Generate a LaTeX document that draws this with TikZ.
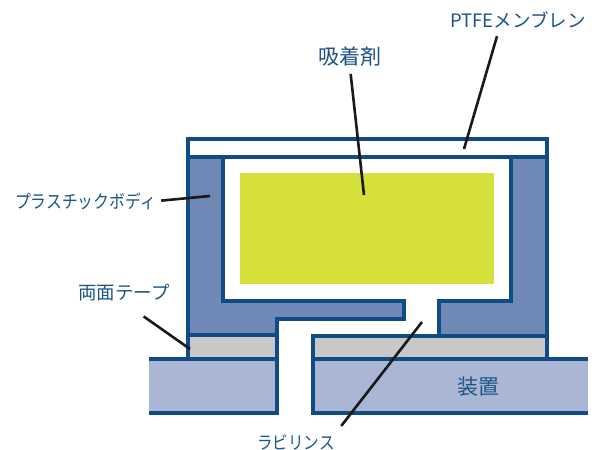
\documentclass[tikz,border=0pt]{standalone}
\usepackage{fontspec}
\setmainfont{Noto Sans CJK JP}
\newfontfamily\narrowfont[FakeStretch=0.86]{Noto Sans CJK JP}
\usepackage{xcolor}
\definecolor{edgeblue}{HTML}{0F4C86}
\definecolor{bodyblue}{HTML}{6F88B5}
\definecolor{baseblue}{HTML}{A9B7D4}
\definecolor{tapegrey}{HTML}{C8C8C8}
\definecolor{sorbent}{HTML}{D5E03A}
\definecolor{textblue}{HTML}{1F5488}
\tikzset{
	partline/.style={draw=edgeblue, line width=3.1pt, line join=miter},
	biglabel/.style={text=textblue, inner sep=1pt, font=\fontsize{21}{21}\selectfont},
	midlabel/.style={text=textblue, inner sep=1pt, font=\fontsize{18.5}{18.5}\selectfont},
	kanalabel/.style={text=textblue, inner sep=1pt, font=\narrowfont\fontsize{18}{18}\selectfont},
	leader/.style={draw=black!90, line width=2.6pt}
}

\begin{document}
\begin{tikzpicture}[x=1pt, y=-1pt]
		\useasboundingbox (0,0) rectangle (598,450);
		% device base
		\fill[baseblue] (149,359) rectangle (277,413);
		\fill[baseblue] (313,359) rectangle (588,413);
		\draw[partline] (149,359) -- (277,359) -- (277,413) -- (149,413);
		\draw[partline] (588,359) -- (313,359) -- (313,413) -- (588,413);
		% tape
		\filldraw[partline, fill=tapegrey] (188,335) rectangle (277,359);
		\filldraw[partline, fill=tapegrey] (313,336) rectangle (547,359);
		% body
		\filldraw[partline, fill=bodyblue] (188,157) -- (188,335) -- (277,335) -- (277,319) -- (404,319) -- (404,301) -- (223,301) -- (223,157) -- cycle;
		\filldraw[partline, fill=bodyblue] (511,157) -- (547,157) -- (547,336) -- (439,336) -- (439,301) -- (511,301) -- cycle;
		% membrane
		\draw[partline] (188,139) rectangle (547,157);
		% sorbent
		\fill[sorbent] (240,173) rectangle (494,284);
		% labels
		\node[midlabel] (labelptfe) at (518,20) {PTFEメンブレン};
		\node[biglabel] (labelsorbent) at (350,57) {吸着剤};
		\node[kanalabel, font=\narrowfont\fontsize{18.4}{18.4}\selectfont] (labelbody) at (85.5,201) {プラスチックボディ};
		\node[midlabel] (labeltape) at (124,293) {両面テープ};
		\node[biglabel] (labeldevice) at (478,387) {装置};
		\node[kanalabel] (labellabyrinth) at (296,442) {ラビリンス};
		\coordinate (tipptfe) at (464,149);
		\coordinate (tipsorbent) at (364,195);
		\coordinate (tipbody) at (210,196);
		\coordinate (tiptape) at (190,349);
		\coordinate (tiplabyrinth) at (422,322);
		\draw[leader, shorten <=7pt] (labelptfe.south west -| 499,0) -- (tipptfe);
		\draw[leader, shorten <=6pt] (labelsorbent.south) -- (tipsorbent);
		\draw[leader, shorten <=4pt] (labelbody.east) -- (tipbody);
		\draw[leader, shorten <=24pt] (labeltape.south) -- (tiptape);
		\draw[leader, shorten <=9pt] (labellabyrinth.north east) -- (tiplabyrinth);
	\end{tikzpicture}
\end{document}
